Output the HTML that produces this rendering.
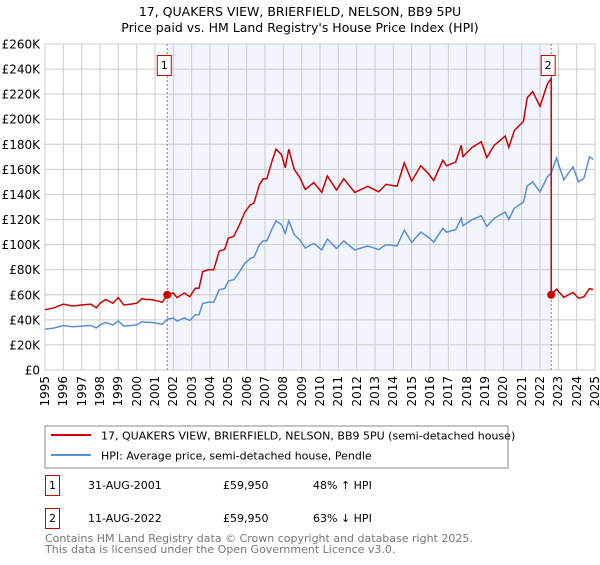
<!DOCTYPE html>
<html><head><meta charset="utf-8"><style>
body{margin:0;background:#fff;font-family:"Liberation Sans","DejaVu Sans",sans-serif;}
svg text{font-family:"DejaVu Sans","Liberation Sans",sans-serif;}
#wrap{position:relative;width:600px;height:560px;}
.xl{position:absolute;top:376px;width:14px;font:12px "DejaVu Sans","Liberation Sans",sans-serif;line-height:14px;writing-mode:vertical-rl;transform:rotate(180deg);color:#000;}
</style></head><body>
<div id="wrap">
<svg id="c" width="600" height="560" xmlns="http://www.w3.org/2000/svg">
<text x="300" y="16" text-anchor="middle" font-size="12.5" fill="#000">17, QUAKERS VIEW, BRIERFIELD, NELSON, BB9 5PU</text>
<text x="300" y="32" text-anchor="middle" font-size="12.5" fill="#000">Price paid vs. HM Land Registry's House Price Index (HPI)</text>
<g id="grid"></g><g id="series"></g><g id="axes"></g>
<rect x="45" y="426" width="463" height="42" fill="#fff" stroke="#888"/>
<line x1="51" y1="435" x2="91" y2="435" stroke="#cc0000" stroke-width="2"/>
<text x="101" y="439.5" font-size="11">17, QUAKERS VIEW, BRIERFIELD, NELSON, BB9 5PU (semi-detached house)</text>
<line x1="51" y1="455" x2="91" y2="455" stroke="#5b8fd4" stroke-width="2"/>
<text x="101" y="459.5" font-size="11">HPI: Average price, semi-detached house, Pendle</text>
<g>
<rect x="45.5" y="475.5" width="14" height="20" fill="#fff" stroke="#cc0000"/>
<text x="52.5" y="489" font-size="11" text-anchor="middle">1</text>
<text x="88" y="489" font-size="11">31-AUG-2001</text>
<text x="223" y="489" font-size="11">£59,950</text>
<text x="313" y="489" font-size="11">48% ↑ HPI</text></g>
<g>
<rect x="45.5" y="508.5" width="14" height="20" fill="#fff" stroke="#cc0000"/>
<text x="52.5" y="522" font-size="11" text-anchor="middle">2</text>
<text x="88" y="522" font-size="11">11-AUG-2022</text>
<text x="223" y="522" font-size="11">£59,950</text>
<text x="313" y="522" font-size="11">63% ↓ HPI</text></g>
<text x="45" y="542" font-size="11" fill="#777">Contains HM Land Registry data © Crown copyright and database right 2025.</text>
<text x="45" y="553" font-size="11" fill="#777">This data is licensed under the Open Government Licence v3.0.</text>
</svg>
</div>
<script>
const hpiYears=[1995.0,1995.5,1996.0,1996.5,1997.0,1997.5,1997.8,1998.0,1998.3,1998.7,1999.0,1999.3,1999.7,2000.0,2000.3,2000.5,2000.8,2001.2,2001.4,2001.67,2002.0,2002.2,2002.6,2002.9,2003.2,2003.4,2003.6,2003.9,2004.2,2004.5,2004.8,2005.0,2005.3,2005.6,2005.9,2006.2,2006.4,2006.7,2006.9,2007.1,2007.4,2007.6,2007.9,2008.1,2008.3,2008.6,2008.9,2009.2,2009.66,2010.1,2010.4,2010.9,2011.3,2011.9,2012.6,2013.2,2013.6,2014.2,2014.6,2015.0,2015.5,2015.9,2016.2,2016.7,2016.9,2017.4,2017.7,2017.8,2018.3,2018.8,2019.1,2019.5,2020.1,2020.3,2020.6,2021.1,2021.3,2021.6,2022.0,2022.4,2022.61,2022.9,2023.3,2023.6,2023.8,2024.1,2024.4,2024.7,2024.9];
const hpiValues=[32.5,33.5,35.5,34.5,35,35.5,33.5,36,38,36,39,35,35.5,36,38.5,38,38,37,36.5,40.5,41.5,39,41.5,39.5,44,44,53,54,54,64,65,71,72,78,85,89,90,100,103,103,113,119,116,109,119,108,103.7,97.3,101,95.7,104.5,97,103,95.7,99,96,100,99,111.6,101.8,110,106,102,113,110,112,121,115,120,123,114.5,121,126,120,129,134,146.7,150,142,154,157,169,151.6,158,162,150,153,170,168];
const saleDates=[2001.67,2022.61];
const salePrices=[59.95,59.95];
const yTicks=[0,20,40,60,80,100,120,140,160,180,200,220,240,260];
const xTicks=[1995,1996,1997,1998,1999,2000,2001,2002,2003,2004,2005,2006,2007,2008,2009,2010,2011,2012,2013,2014,2015,2016,2017,2018,2019,2020,2021,2022,2023,2024,2025];
const NS='http://www.w3.org/2000/svg';
const X0=45,X1=595,Y0=370,Y1=44;
const xs=t=>X0+(t-1995)/30*(X1-X0);
const ys=v=>Y0-v/260*(Y0-Y1);
function mk(tag,attrs,parent){const e=document.createElementNS(NS,tag);for(const k in attrs)e.setAttribute(k,attrs[k]);parent.appendChild(e);return e;}
const grid=document.getElementById('grid'),ser=document.getElementById('series'),ax=document.getElementById('axes');
const wrap=document.getElementById('wrap');
const shade=mk('rect',{x:xs(saleDates[0]),y:Y1,width:xs(saleDates[1])-xs(saleDates[0]),height:Y0-Y1,fill:'#f2f5fd'},grid);


yTicks.forEach(v=>{
 const l=mk('line',{x1:X0,x2:X1,y1:ys(v),y2:ys(v),stroke:'#ccc'},grid);
 
 
 const t=mk('text',{x:X0-5,y:ys(v)+4.5,'text-anchor':'end','font-size':'12'},ax);
 t.textContent=v===0?'£0':'£'+v+'K';
 
 
});
xTicks.forEach(y=>{
 const l=mk('line',{x1:xs(y),x2:xs(y),y1:Y1,y2:Y0,stroke:'#ccc'},grid);
 
 
 const d=document.createElement('div');
 d.className='xl';
 d.style.left=(xs(y)-7)+'px';
 d.textContent=y;
 
 
 wrap.appendChild(d);
});
mk('rect',{x:X0,y:Y1,width:X1-X0,height:Y0-Y1,fill:'none',stroke:'#ccc'},grid);
saleDates.forEach((d,i)=>{
 const l=mk('line',{x1:xs(d),x2:xs(d),y1:Y1,y2:Y0,stroke:'#e06060','stroke-dasharray':'2,2'},grid);
 
 
});
function hpiAt(t){for(let i=0;i<hpiYears.length-1;i++){if(t>=hpiYears[i]&&t<=hpiYears[i+1]){const f=(t-hpiYears[i])/(hpiYears[i+1]-hpiYears[i]);return hpiValues[i]+f*(hpiValues[i+1]-hpiValues[i]);}}return hpiValues[hpiValues.length-1];}
const r1=salePrices[0]/hpiAt(saleDates[0]),r2=salePrices[1]/hpiAt(saleDates[1]);
const bp=hpiYears.map((t,i)=>xs(t).toFixed(1)+','+ys(hpiValues[i]).toFixed(1)).join(' ');
const bl=mk('polyline',{points:bp,fill:'none',stroke:'#5b8fd4','stroke-width':'1.5'},ser);


let rp=[];
hpiYears.forEach((t,i)=>{if(t<saleDates[1])rp.push([t,hpiValues[i]*r1]);});
rp.push([saleDates[1],hpiAt(saleDates[1])*r1]);
rp.push([saleDates[1],salePrices[1]]);
hpiYears.forEach((t,i)=>{if(t>saleDates[1])rp.push([t,hpiValues[i]*r2]);});
const rl=mk('polyline',{points:rp.map(p=>xs(p[0]).toFixed(1)+','+ys(p[1]).toFixed(1)).join(' '),fill:'none',stroke:'#cc0000','stroke-width':'1.5'},ser);


saleDates.forEach((d,i)=>{
 const c=mk('circle',{cx:xs(d),cy:ys(salePrices[i]),r:4,fill:'#cc0000'},ser);
 
 
 const g=mk('g',{},ser);
 
 
 mk('rect',{x:xs(d)-10,y:55.5,width:14,height:20,fill:'#fff',stroke:'#cc0000'},g);
 const t=mk('text',{x:xs(d)-3,y:69,'font-size':'11','text-anchor':'middle'},g);
 t.textContent=i+1;
});
</script>
</body></html>
